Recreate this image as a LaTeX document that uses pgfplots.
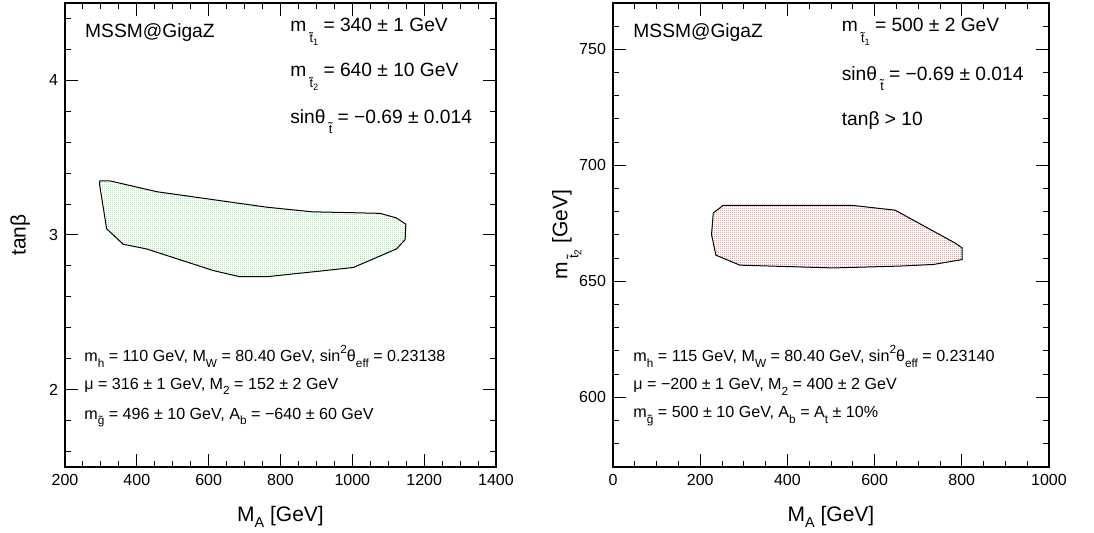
\documentclass[border=0pt]{standalone}
\usepackage{fontspec}
\setmainfont{Liberation Sans}
\usepackage{pgfplots}
\pgfplotsset{compat=1.18}
\usetikzlibrary{patterns.meta}
\definecolor{dotgreen}{RGB}{40,215,40}
\definecolor{dotred}{RGB}{225,20,20}
\tikzdeclarepattern{
  name=fdots,
  type=uncolored,
  bottom left={(0pt,0pt)},
  top right={(1pt,1pt)},
  tile size={(1pt,1pt)},
  code={\fill (0pt,0pt) rectangle (0.5pt,0.5pt);}
}
\newcommand{\bigtxt}{\fontsize{9.6}{12}\selectfont}
\newcommand{\smltxt}{\fontsize{8.05}{10}\selectfont}
% t-tilde with index, for the large annotations
\newcommand{\tsb}[1]{\raisebox{-5.5pt}{\fontsize{6.3}{6.3}\selectfont\~{t}\raisebox{-1.6pt}{\fontsize{4.6}{4.6}\selectfont #1}}}
% t-tilde without index
\newcommand{\tsbo}{\raisebox{-5pt}{\fontsize{6.3}{6.3}\selectfont\~{t}}}
% small subscript / superscript for the small text
\newcommand{\ssb}[1]{\raisebox{-2.8pt}{\fontsize{5.9}{5.9}\selectfont #1}}
\newcommand{\sps}[1]{\raisebox{4pt}{\fontsize{5.9}{5.9}\selectfont #1}}
\newcommand{\gsb}{\raisebox{-2.6pt}{\fontsize{5.9}{5.9}\selectfont\~{g}}}
% label subscripts
\newcommand{\lsb}[1]{\raisebox{-3.2pt}{\fontsize{7.2}{7.2}\selectfont #1}}
\newcommand{\ltsb}[1]{\raisebox{-5.5pt}{\fontsize{6.8}{6.8}\selectfont\~{t}\raisebox{-1.6pt}{\fontsize{5}{5}\selectfont #1}}}
\tikzset{txt/.style={anchor=base west, inner sep=0pt}}
\pgfplotsset{
  myaxis/.style={
    scale only axis,
    anchor=south west,
    axis line style={line width=0.6pt},
    every tick/.style={line width=0.5pt, black},
    major tick length=6.3pt,
    minor tick length=3.2pt,
    tick align=inside,
    xtick pos=both, ytick pos=both,
    ticklabel style={font=\fontsize{8}{9}\selectfont},
    /pgf/number format/assume math mode=true,
    /pgf/number format/set thousands separator={},
    label style={font=\fontsize{10.5}{12}\selectfont},
    height=232pt,
  },
}
\begin{document}
\begin{tikzpicture}
\path[use as bounding box] (0,0) rectangle (547pt,266.5pt);
% Left panel
\begin{axis}[myaxis,
  at={(32.5pt,33pt)}, width=215.5pt,
  xmin=200, xmax=1400, ymin=1.5, ymax=4.5,
  xtick={200,400,...,1400},
  minor xtick={250,300,...,1350},
  ytick={2,3,4},
  minor ytick={1.6,1.8,2.2,2.4,2.6,2.8,3.2,3.4,3.6,3.8,4.2,4.4},
  xlabel={M\lsb{A} [GeV]},
  ylabel={tanβ},
  xlabel style={at={(axis description cs:0.5,-0.108)}, anchor=center},
  ylabel style={at={(axis description cs:-0.104,0.5)}, anchor=center},
]
\addplot[draw=black, line width=0.5pt, pattern=fdots, pattern color=dotgreen] coordinates {
(297,3.35) (296,3.33) (316,3.04) (362,2.94) (427,2.91) (613,2.77) (687,2.73) (761,2.73) (924,2.77) (1003,2.79) (1123,2.91) (1147,2.97) (1149,3.07) (1123,3.11) (1077,3.14) (887,3.15) (761,3.18) (669,3.21) (455,3.28) (325,3.35)
} -- cycle;
\node[txt, font=\bigtxt] at (rel axis cs:0.046,0.925) {MSSM@GigaZ};
\node[txt, font=\bigtxt] at (rel axis cs:0.522,0.938) {m\,\tsb{1} = 340 ± 1 GeV};
\node[txt, font=\bigtxt] at (rel axis cs:0.522,0.841) {m\,\tsb{2} = 640 ± 10 GeV};
\node[txt, font=\bigtxt] at (rel axis cs:0.522,0.741) {sinθ\,\tsbo\ = −0.69 ± 0.014};
\node[txt, font=\smltxt] at (rel axis cs:0.044,0.227) {m\ssb{h} = 110 GeV, M\ssb{W} = 80.40 GeV, sin\sps{2}θ\ssb{eff} = 0.23138};
\node[txt, font=\smltxt] at (rel axis cs:0.044,0.168) {μ = 316 ± 1 GeV, M\ssb{2} = 152 ± 2 GeV};
\node[txt, font=\smltxt] at (rel axis cs:0.044,0.103) {m\gsb\ = 496 ± 10 GeV, A\ssb{b} = −640 ± 60 GeV};
\end{axis}
% Right panel
\begin{axis}[myaxis,
  at={(306.5pt,33pt)}, width=218pt,
  xmin=0, xmax=1000, ymin=570, ymax=770,
  xtick={0,200,...,1000},
  minor xtick={50,100,...,950},
  ytick={600,650,700,750},
  minor ytick={580,590,...,760},
  xlabel={M\lsb{A} [GeV]},
  ylabel={m\,\ltsb{2} [GeV]},
  xlabel style={at={(axis description cs:0.5,-0.108)}, anchor=center},
  ylabel style={at={(axis description cs:-0.106,0.5)}, anchor=center},
]
\addplot[draw=black, line width=0.5pt, pattern=fdots, pattern color=dotred] coordinates {
(253,682.8) (230,679.5) (226,670.2) (236,661.3) (291,657) (505,655.8) (658,656.6) (735,657.3) (801,659.4) (801,664.4) (784,666.6) (647,680.7) (547,682.8)
} -- cycle;
\node[txt, font=\bigtxt] at (rel axis cs:0.046,0.925) {MSSM@GigaZ};
\node[txt, font=\bigtxt] at (rel axis cs:0.524,0.938) {m\,\tsb{1} = 500 ± 2 GeV};
\node[txt, font=\bigtxt] at (rel axis cs:0.524,0.834) {sinθ\,\tsbo\ = −0.69 ± 0.014};
\node[txt, font=\bigtxt] at (rel axis cs:0.524,0.737) {tanβ > 10};
\node[txt, font=\smltxt] at (rel axis cs:0.046,0.227) {m\ssb{h} = 115 GeV, M\ssb{W} = 80.40 GeV, sin\sps{2}θ\ssb{eff} = 0.23140};
\node[txt, font=\smltxt] at (rel axis cs:0.046,0.167) {μ = −200 ± 1 GeV, M\ssb{2} = 400 ± 2 GeV};
\node[txt, font=\smltxt] at (rel axis cs:0.046,0.106) {m\gsb\ = 500 ± 10 GeV, A\ssb{b} = A\ssb{t} ± 10\%};
\end{axis}
\end{tikzpicture}
\end{document}
